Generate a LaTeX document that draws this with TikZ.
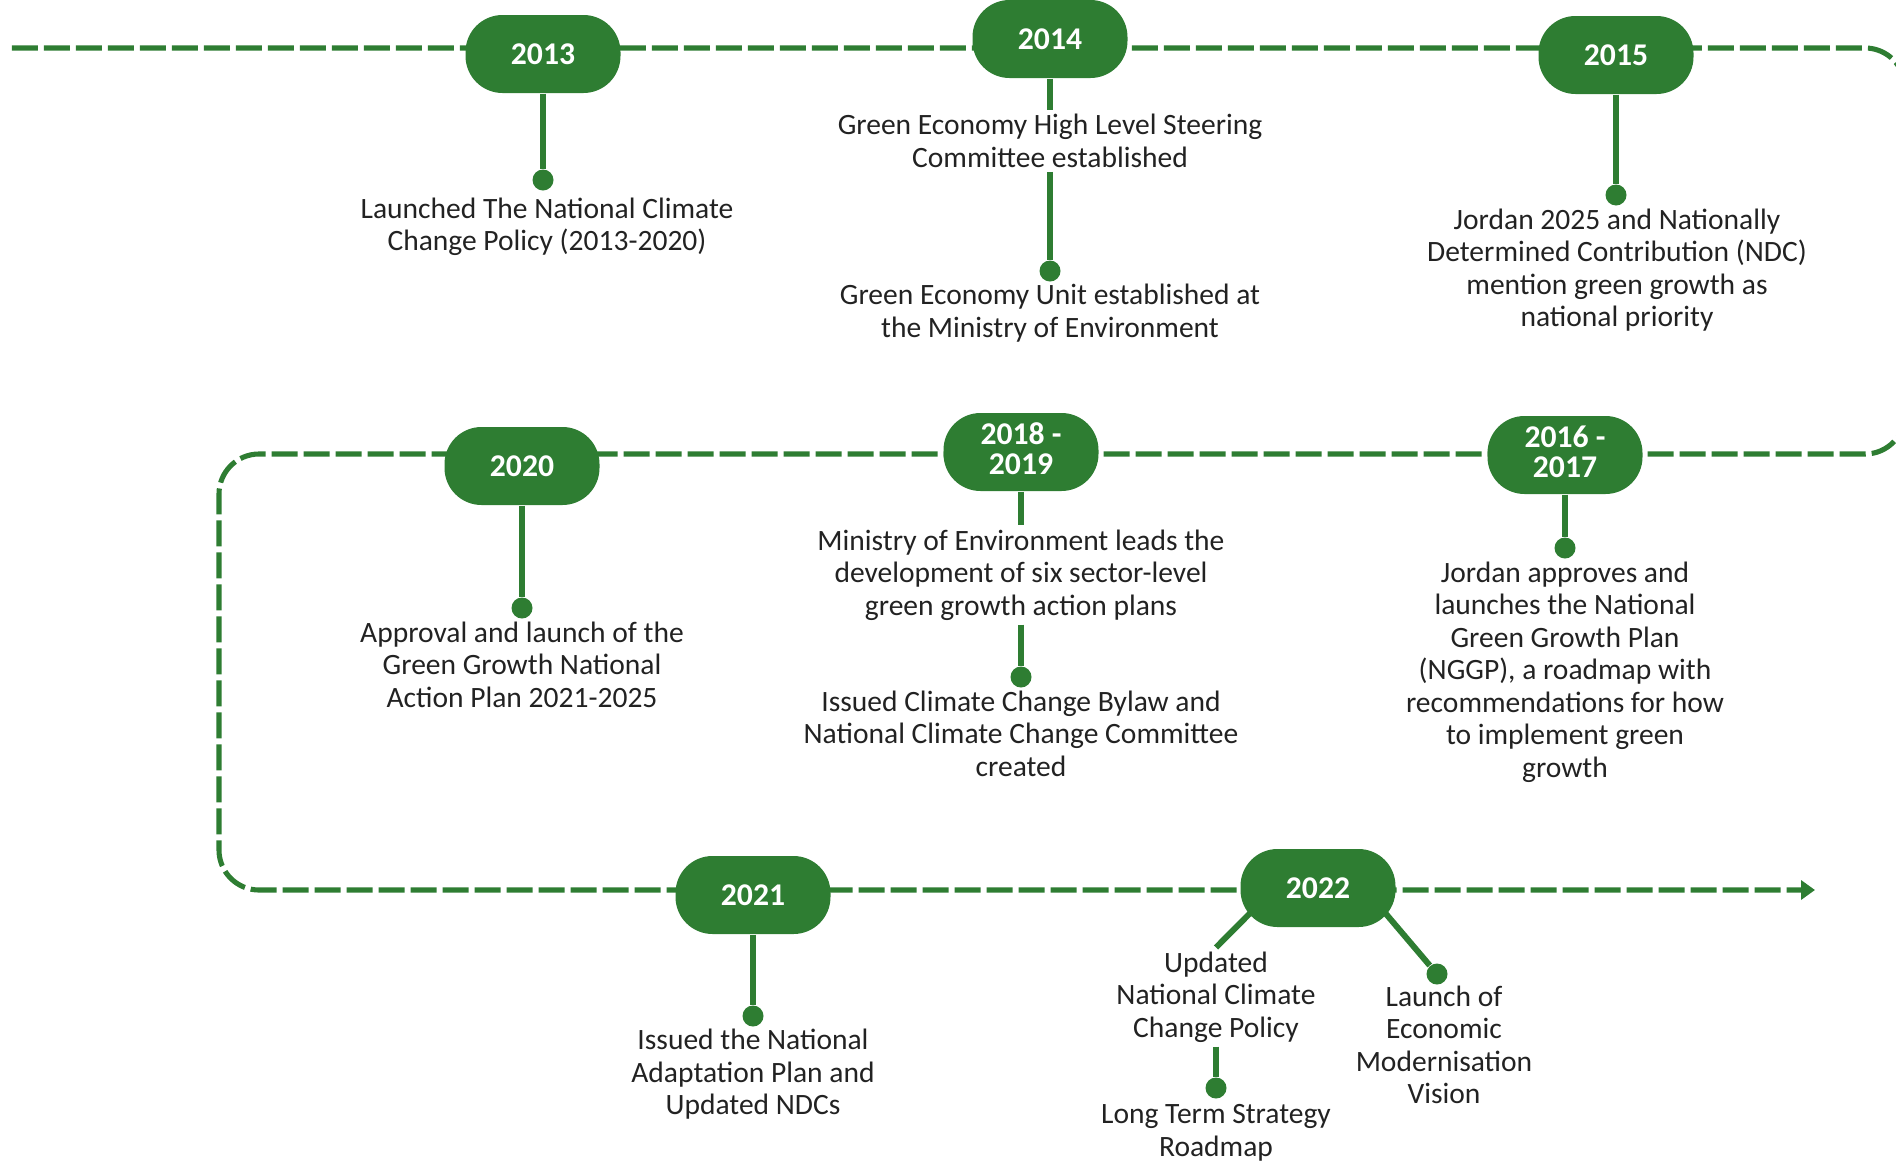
\documentclass[tikz,border=0pt]{standalone}
\usepackage{fontspec}
\setmainfont{Carlito}
\usetikzlibrary{arrows.meta,backgrounds,calc}
\definecolor{leafgreen}{HTML}{2E7D32}
\definecolor{inkgray}{HTML}{222222}
\begin{document}
\begin{tikzpicture}[x=1cm, y=-1cm,
    year/.style={fill=leafgreen, text=white, rounded corners=0.37cm,
      minimum width=1.55cm, minimum height=0.78cm, inner sep=0pt,
      align=center, font=\fontsize{9}{8.6}\selectfont\bfseries},
    twoyear/.style={year, text depth=0.07cm},
    event/.style={text=inkgray, align=center, inner sep=1pt,
      font=\fontsize{8.4}{9.25}\selectfont},
    dot/.style={circle, fill=leafgreen, inner sep=0pt, minimum size=0.21cm},
    stem/.style={draw=leafgreen, line width=1.7pt},
    timeline/.style={draw=leafgreen, line width=1.45pt,
      dash pattern=on 0.26cm off 0.06cm, rounded corners=0.4cm}]
  \useasboundingbox (0,0) rectangle (18.96,11.60);
  \clip (0,0) rectangle (18.96,11.60);

  % Years
  \node[year] (y2013) at (5.43,0.54) {2013};
  \node[year] (y2014) at (10.50,0.39) {2014};
  \node[year] (y2015) at (16.16,0.55) {2015};
  \node[year] (y2020) at (5.22,4.66) {2020};
  \node[twoyear] (y2018) at (10.21,4.52) {2018 -\\2019};
  \node[twoyear] (y2016) at (15.65,4.55) {2016 -\\2017};
  \node[year] (y2021) at (7.53,8.95) {2021};
  \node[year] (y2022) at (13.18,8.88) {2022};

  % Dots
  \node[dot] (d2013) at (5.43,1.80) {};
  \node[dot] (d2014) at (10.50,2.71) {};
  \node[dot] (d2015) at (16.16,1.95) {};
  \node[dot] (d2020) at (5.22,6.08) {};
  \node[dot] (d2018) at (10.21,6.77) {};
  \node[dot] (d2016) at (15.65,5.48) {};
  \node[dot] (d2021) at (7.53,10.16) {};
  \node[dot] (d2022b) at (12.16,10.88) {};
  \node[dot] (d2022c) at (14.37,9.74) {};

  % Events
  \node[event] (t2013) at (5.47,2.27) {Launched The National Climate\\Change Policy (2013-2020)};
  \node[event] (t2014a) at (10.50,1.41) {Green Economy High Level Steering\\Committee established};
  \node[event] (t2014b) at (10.50,3.13) {Green Economy Unit established at\\the Ministry of Environment};
  \node[event] (t2015) at (16.17,2.70) {Jordan 2025 and Nationally\\Determined Contribution (NDC)\\mention green growth as\\national priority};
  \node[event] (t2020) at (5.22,6.645) {Approval and launch of the\\Green Growth National\\Action Plan 2021-2025};
  \node[event] (t2018a) at (10.21,5.75) {Ministry of Environment leads the\\development of six sector-level\\green growth action plans};
  \node[event] (t2018b) at (10.21,7.335) {Issued Climate Change Bylaw and\\National Climate Change Committee\\created};
  \node[event] (t2016) at (15.65,6.72) {Jordan approves and\\launches the National\\Green Growth Plan\\(NGGP), a roadmap with\\recommendations for how\\to implement green\\growth};
  \node[event] (t2021) at (7.53,10.745) {Issued the National\\Adaptation Plan and\\Updated NDCs};
  \node[event] (t2022a) at (12.16,9.97) {Updated\\National Climate\\Change Policy};
  \node[event] (t2022b) at (12.16,11.33) {Long Term Strategy\\Roadmap};
  \node[event] (t2022c) at (14.44,10.45) {Launch of\\Economic\\Modernisation\\Vision};

  \begin{pgfonlayer}{background}
    % Timeline
    \coordinate (start) at (0.12,0.48);
    \coordinate (finish) at (18.15,8.90);
    \draw[timeline, -{Triangle[length=0.14cm, width=0.19cm]}]
      (start) -- (19.05,0.48) -- (19.05,4.54) -- (2.19,4.54)
      -- (2.19,8.90) -- (finish);

    % Stems
    \draw[stem] (y2013) -- (d2013);
    \draw[stem] (y2014) -- (t2014a.north);
    \draw[stem] (t2014a.south) -- (d2014);
    \draw[stem] (y2015) -- (d2015);
    \draw[stem] (y2020) -- (d2020);
    \draw[stem] (y2018) -- (t2018a.north);
    \draw[stem] (t2018a.south) -- (d2018);
    \draw[stem] (y2016) -- (d2016);
    \draw[stem] (y2021) -- (d2021);
    \draw[stem] ($(y2022)+(-0.43,0)$) -- (t2022a.north);
    \draw[stem] (t2022a.south) -- (d2022b);
    \draw[stem] ($(y2022)+(0.46,0)$) -- (d2022c);
  \end{pgfonlayer}
\end{tikzpicture}
\end{document}
